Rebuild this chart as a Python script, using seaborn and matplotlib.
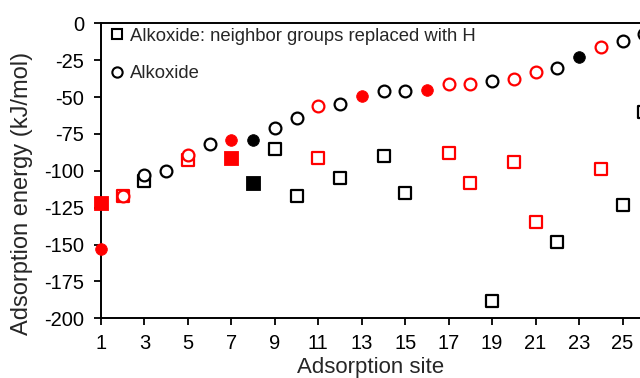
import matplotlib
matplotlib.use("Agg")
import matplotlib.pyplot as plt
from matplotlib.lines import Line2D
import seaborn as sns
import pandas as pd

sns.set_theme(style="white")
plt.rcParams["font.family"] = ["Liberation Sans", "DejaVu Sans"]
plt.rcParams["axes.unicode_minus"] = False

# Alkoxide (circles)
circle_sites = list(range(1, 27))
circle_energy = [-153, -117, -103, -100, -89, -82, -79, -79, -71, -64, -56, -55, -49,
                 -46, -46, -45, -41, -41, -39, -38, -33, -30, -23, -16, -12, -7]
circle_color = ["red", "red", "black", "black", "red", "black", "red", "black", "black", "black",
                "red", "black", "red", "black", "black", "red", "red", "red", "black", "red",
                "red", "black", "black", "red", "black", "black"]
circle_filled = [True, False, False, False, False, False, True, True, False, False,
                 False, False, True, False, False, True, False, False, False, False,
                 False, False, True, False, False, False]

# Alkoxide: neighbor groups replaced with H (squares)
square_sites = [1, 2, 3, 5, 7, 8, 9, 10, 11, 12, 14, 15, 17, 18, 19, 20, 21, 22, 24, 25, 26]
square_energy = [-122, -117, -107, -93, -91, -108, -85, -117, -91, -105, -90, -115, -88,
                 -108, -188, -94, -135, -148, -99, -123, -60]
square_color = ["red", "red", "black", "red", "red", "black", "black", "black", "red", "black",
                "black", "black", "red", "red", "black", "red", "red", "black", "red", "black", "black"]
square_filled = [True, False, False, False, True, True, False, False, False, False,
                 False, False, False, False, False, False, False, False, False, False, False]

legend_labels = ["Alkoxide: neighbor groups replaced with H", "Alkoxide"]

circles = pd.DataFrame({"site": circle_sites, "energy": circle_energy,
                        "color": circle_color, "filled": circle_filled})
squares = pd.DataFrame({"site": square_sites, "energy": square_energy,
                        "color": square_color, "filled": square_filled})

fig = plt.figure(figsize=(6.4, 3.78), dpi=100)
ax = fig.add_axes([101 / 640, 1 - 318.3 / 378, 565 / 640, (318.3 - 23.3) / 378])

def draw(df, marker, size_open, size_filled):
    for (col, filled), sub in df.groupby(["color", "filled"]):
        sns.scatterplot(data=sub, x="site", y="energy", ax=ax, marker=marker,
                        s=size_filled if filled else size_open,
                        facecolor=col if filled else "white", edgecolor=col,
                        linewidth=0.6 if filled else 1.6, zorder=3, clip_on=False, legend=False)

draw(squares, "s", 68, 88)
draw(circles, "o", 72, 70)

ax.set_xlim(1, 27)
ax.set_ylim(-200, 0)
ax.set_xticks(list(range(1, 27, 2)))
ax.set_yticks(list(range(-200, 1, 25)))
ax.tick_params(axis="both", direction="out", length=5, width=1.3, labelsize=14.5,
               bottom=True, left=True, colors="black")
ax.tick_params(axis="x", pad=6)
ax.tick_params(axis="y", pad=7)
for side in ["left", "bottom", "top"]:
    ax.spines[side].set_color("black")
    ax.spines[side].set_linewidth(1.4)
ax.spines["right"].set_visible(False)
ax.set_xlabel("Adsorption site", fontsize=16)
ax.set_ylabel("Adsorption energy (kJ/mol)", fontsize=17)
ax.xaxis.set_label_coords((371 - 101) / 565, -(368 - 318.3) / 295, transform=ax.transAxes)
ax.yaxis.set_label_coords(-(101 - 22) / 565, (318.3 - 193) / 295, transform=ax.transAxes)
ax.xaxis.label.set_va("center")
ax.yaxis.label.set_va("center")

handles = [Line2D([], [], linestyle="none", marker="s", markersize=7.4, markerfacecolor="white",
                  markeredgecolor="black", markeredgewidth=1.5),
           Line2D([], [], linestyle="none", marker="o", markersize=7.4, markerfacecolor="white",
                  markeredgecolor="black", markeredgewidth=1.5)]
ax.legend(handles, legend_labels, loc="upper left", frameon=False, fontsize=13.3,
          handlelength=0.8, handletextpad=0.3, labelspacing=1.12,
          bbox_to_anchor=(0.015, 0.985), borderaxespad=0, borderpad=0)

fig.savefig("out.png", dpi=100)
